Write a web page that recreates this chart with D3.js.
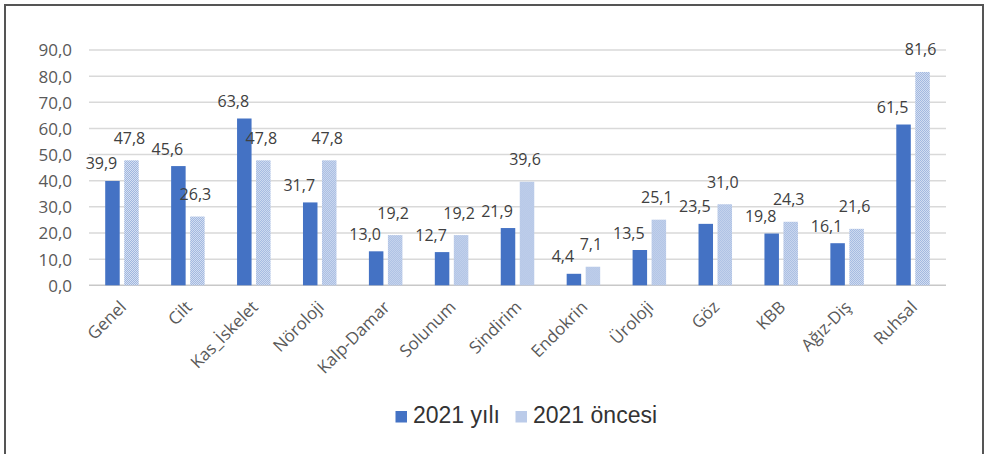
<!DOCTYPE html>
<html><head><meta charset="utf-8">
<script src="https://cdn.jsdelivr.net/npm/d3@7"></script>
<style>
body{margin:0;background:#fff;}
svg{display:block;}
</style></head>
<body>
<svg id="c" width="985" height="454"></svg>
<script>
const categories = ["Genel","Cilt","Kas_İskelet","Nöroloji","Kalp-Damar","Solunum","Sindirim","Endokrin","Üroloji","Göz","KBB","Ağız-Diş","Ruhsal"];
const series2021 = [39.9,45.6,63.8,31.7,13.0,12.7,21.9,4.4,13.5,23.5,19.8,16.1,61.5];
const seriesBefore = [47.8,26.3,47.8,47.8,19.2,19.2,39.6,7.1,25.1,31.0,24.3,21.6,81.6];
const seriesNames = ["2021 yılı","2021 öncesi"];
const yTicks = [0,10,20,30,40,50,60,70,80,90];

const svg = d3.select("#c");
const defs = svg.append("defs");
const pat = defs.append("pattern").attr("id","chk").attr("patternUnits","userSpaceOnUse").attr("width",2).attr("height",2);
pat.append("rect").attr("width",2).attr("height",2).attr("fill","#d6e0f2");
pat.append("rect").attr("width",1).attr("height",1).attr("fill","#9fb6df");
pat.append("rect").attr("x",1).attr("y",1).attr("width",1).attr("height",1).attr("fill","#9fb6df");

// frame
svg.append("path").attr("d","M5,454 V5 H983 V454").attr("fill","none").attr("stroke","#555").attr("stroke-width",2);

const x0 = d3.scaleBand().domain(categories).range([89,946]).paddingInner(0).paddingOuter(0);
const x1 = d3.scaleBand().domain(seriesNames).range([0,x0.bandwidth()]).paddingInner(0.237).paddingOuter(0.853);
const y = d3.scaleLinear().domain([0,90]).range([285.3,50]);

// grid
svg.append("g").selectAll("line").data(yTicks).join("line")
  .attr("x1",89).attr("x2",946).attr("y1",d=>y(d)).attr("y2",d=>y(d))
  .attr("stroke",d=>d===0?"#c8c8c8":"#d9d9d9").attr("stroke-width",1.5);

// y labels
const fmt = d=>d3.format(".1f")(d).replace(".",",");
const yAxis = d3.axisLeft(y).tickValues(yTicks).tickFormat(fmt).tickSize(0).tickPadding(0);
const ya = svg.append("g").attr("transform","translate(72,0)").call(yAxis);
ya.select(".domain").remove();
ya.selectAll("text").attr("font-family","Open Sans").attr("font-size",17).attr("fill","#595959").attr("dy","0.35em");

// bars
const data = categories.map((c,i)=>({c, vals:[{s:seriesNames[0],v:series2021[i]},{s:seriesNames[1],v:seriesBefore[i]}]}));
const g = svg.append("g").selectAll("g").data(data).join("g").attr("transform",d=>`translate(${x0(d.c)},0)`);
g.selectAll("rect").data(d=>d.vals).join("rect")
  .attr("x",d=>x1(d.s)).attr("width",x1.bandwidth())
  .attr("y",d=>y(d.v)).attr("height",d=>y(0)-y(d.v))
  .attr("fill",d=>d.s===seriesNames[0]?"#4472c4":"url(#chk)");
g.selectAll("text").data(d=>d.vals).join("text")
  .attr("x",d=>x1(d.s)+x1.bandwidth()/2+(d.s===seriesNames[0]?-11:-2))
  .attr("y",d=>y(d.v)-(d.s===seriesNames[0]?11.5:16.5))
  .attr("text-anchor","middle").attr("font-family","Open Sans").attr("font-size",16).attr("fill","#404040")
  .text(d=>fmt(d.v));

// category labels
const xAxis = d3.axisBottom(x0).tickSize(0).tickPadding(0);
const xa = svg.append("g").attr("transform","translate(0,296)").call(xAxis);
xa.select(".domain").remove();
xa.selectAll("text").attr("text-anchor","end").attr("font-family","Open Sans").attr("font-size",17).attr("fill","#595959")
  .attr("transform","translate(1,8) rotate(-45)").attr("dy","0.35em").attr("y",0);

// legend
const leg = svg.append("g").attr("transform","translate(395.5,0)");
const items = [{n:seriesNames[0],f:"#4472c4",x:0},{n:seriesNames[1],f:"url(#chk)",x:120}];
items.forEach(it=>{
  leg.append("rect").attr("x",it.x).attr("y",411).attr("width",11.5).attr("height",11.5).attr("fill",it.f);
  leg.append("text").attr("x",it.x+17.5).attr("y",423).attr("font-family","Liberation Sans").attr("font-size",23).attr("fill","#333").text(it.n);
});
</script>
</body></html>
